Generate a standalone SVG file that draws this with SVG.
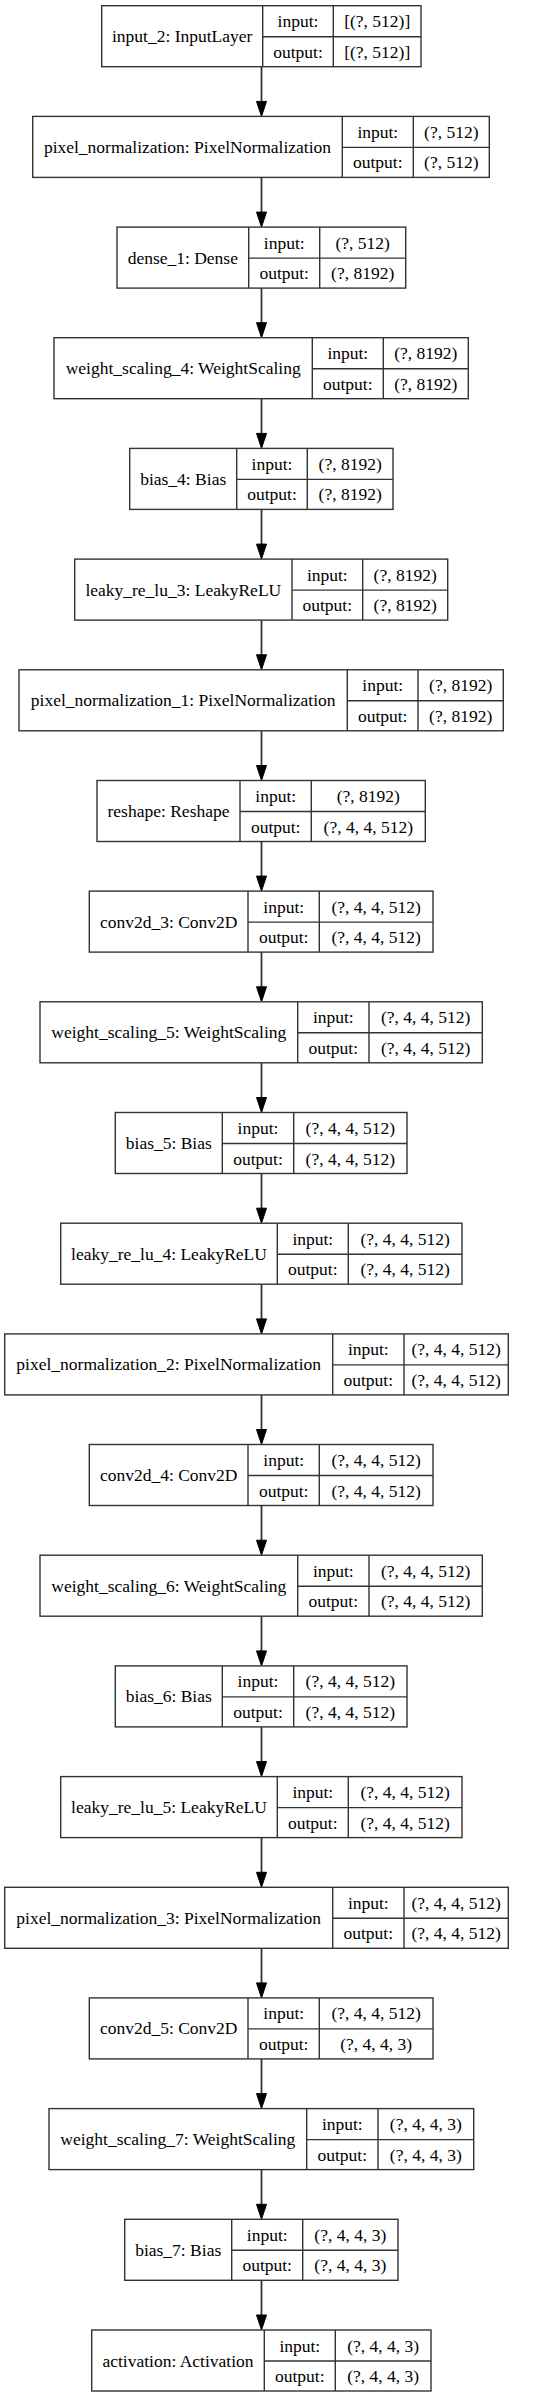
<svg xmlns="http://www.w3.org/2000/svg" width="540" height="2397" viewBox="0 0 540 2397">
<style>
.b{fill:#fff;stroke:#333;stroke-width:1.4}
.l{stroke:#333;stroke-width:1.4}
text{font-family:"Liberation Serif","Times New Roman",serif;font-size:17.5px;fill:#000;text-anchor:middle}
.e{stroke:#333;stroke-width:1.8}
.h{fill:#000;stroke:#000;stroke-width:1}
</style>
<rect width="540" height="2397" fill="#fff"/>
<g id="connectors">
<line class="e" x1="261.5" y1="66.7" x2="261.5" y2="102"/><polygon class="h" points="256.5,101.4 266.5,101.4 261.5,116.4"/>
<line class="e" x1="261.5" y1="177.4" x2="261.5" y2="213"/><polygon class="h" points="256.5,212.1 266.5,212.1 261.5,227.1"/>
<line class="e" x1="261.5" y1="288.1" x2="261.5" y2="323"/><polygon class="h" points="256.5,322.7 266.5,322.7 261.5,337.7"/>
<line class="e" x1="261.5" y1="398.7" x2="261.5" y2="434"/><polygon class="h" points="256.5,433.4 266.5,433.4 261.5,448.4"/>
<line class="e" x1="261.5" y1="509.4" x2="261.5" y2="545"/><polygon class="h" points="256.5,544.1 266.5,544.1 261.5,559.1"/>
<line class="e" x1="261.5" y1="620.1" x2="261.5" y2="655"/><polygon class="h" points="256.5,654.8 266.5,654.8 261.5,669.8"/>
<line class="e" x1="261.5" y1="730.8" x2="261.5" y2="766"/><polygon class="h" points="256.5,765.5 266.5,765.5 261.5,780.5"/>
<line class="e" x1="261.5" y1="841.5" x2="261.5" y2="877"/><polygon class="h" points="256.5,876.1 266.5,876.1 261.5,891.1"/>
<line class="e" x1="261.5" y1="952.1" x2="261.5" y2="987"/><polygon class="h" points="256.5,986.8 266.5,986.8 261.5,1001.8"/>
<line class="e" x1="261.5" y1="1062.8" x2="261.5" y2="1098"/><polygon class="h" points="256.5,1097.5 266.5,1097.5 261.5,1112.5"/>
<line class="e" x1="261.5" y1="1173.5" x2="261.5" y2="1209"/><polygon class="h" points="256.5,1208.2 266.5,1208.2 261.5,1223.2"/>
<line class="e" x1="261.5" y1="1284.2" x2="261.5" y2="1319"/><polygon class="h" points="256.5,1318.9 266.5,1318.9 261.5,1333.9"/>
<line class="e" x1="261.5" y1="1394.9" x2="261.5" y2="1430"/><polygon class="h" points="256.5,1429.5 266.5,1429.5 261.5,1444.5"/>
<line class="e" x1="261.5" y1="1505.5" x2="261.5" y2="1541"/><polygon class="h" points="256.5,1540.2 266.5,1540.2 261.5,1555.2"/>
<line class="e" x1="261.5" y1="1616.2" x2="261.5" y2="1651"/><polygon class="h" points="256.5,1650.9 266.5,1650.9 261.5,1665.9"/>
<line class="e" x1="261.5" y1="1726.9" x2="261.5" y2="1762"/><polygon class="h" points="256.5,1761.6 266.5,1761.6 261.5,1776.6"/>
<line class="e" x1="261.5" y1="1837.6" x2="261.5" y2="1873"/><polygon class="h" points="256.5,1872.3 266.5,1872.3 261.5,1887.3"/>
<line class="e" x1="261.5" y1="1948.3" x2="261.5" y2="1983"/><polygon class="h" points="256.5,1982.9 266.5,1982.9 261.5,1997.9"/>
<line class="e" x1="261.5" y1="2058.9" x2="261.5" y2="2094"/><polygon class="h" points="256.5,2093.6 266.5,2093.6 261.5,2108.6"/>
<line class="e" x1="261.5" y1="2169.6" x2="261.5" y2="2205"/><polygon class="h" points="256.5,2204.3 266.5,2204.3 261.5,2219.3"/>
<line class="e" x1="261.5" y1="2280.3" x2="261.5" y2="2315"/><polygon class="h" points="256.5,2315 266.5,2315 261.5,2330"/>
</g>
<g id="input_2" transform="translate(0,5.7)">
<rect class="b" x="101.7" y="0" width="319.3" height="61"/><line class="l" x1="262.7" y1="0" x2="262.7" y2="61"/><line class="l" x1="333.3" y1="0" x2="333.3" y2="61"/><line class="l" x1="262.7" y1="31" x2="421" y2="31"/>
<text x="182.2" y="36.5">input_2: InputLayer</text><text x="298" y="21.5">input:</text><text x="298" y="52">output:</text><text x="377.2" y="21.5">[(?, 512)]</text><text x="377.2" y="52">[(?, 512)]</text>
</g>
<g id="pixel_normalization" transform="translate(0,116.4)">
<rect class="b" x="32.7" y="0" width="456.6" height="61"/><line class="l" x1="342.3" y1="0" x2="342.3" y2="61"/><line class="l" x1="413.3" y1="0" x2="413.3" y2="61"/><line class="l" x1="342.3" y1="31" x2="489.3" y2="31"/>
<text x="187.5" y="36.5">pixel_normalization: PixelNormalization</text><text x="377.8" y="21.5">input:</text><text x="377.8" y="52">output:</text><text x="451.3" y="21.5">(?, 512)</text><text x="451.3" y="52">(?, 512)</text>
</g>
<g id="dense_1" transform="translate(0,227.1)">
<rect class="b" x="117" y="0" width="288.7" height="61"/><line class="l" x1="248.7" y1="0" x2="248.7" y2="61"/><line class="l" x1="319.7" y1="0" x2="319.7" y2="61"/><line class="l" x1="248.7" y1="31" x2="405.7" y2="31"/>
<text x="182.8" y="36.5">dense_1: Dense</text><text x="284.2" y="21.5">input:</text><text x="284.2" y="52">output:</text><text x="362.7" y="21.5">(?, 512)</text><text x="362.7" y="52">(?, 8192)</text>
</g>
<g id="weight_scaling_4" transform="translate(0,337.7)">
<rect class="b" x="54" y="0" width="414.3" height="61"/><line class="l" x1="312.3" y1="0" x2="312.3" y2="61"/><line class="l" x1="383.3" y1="0" x2="383.3" y2="61"/><line class="l" x1="312.3" y1="31" x2="468.3" y2="31"/>
<text x="183.2" y="36.5">weight_scaling_4: WeightScaling</text><text x="347.8" y="21.5">input:</text><text x="347.8" y="52">output:</text><text x="425.8" y="21.5">(?, 8192)</text><text x="425.8" y="52">(?, 8192)</text>
</g>
<g id="bias_4" transform="translate(0,448.4)">
<rect class="b" x="129.7" y="0" width="263.3" height="61"/><line class="l" x1="236.7" y1="0" x2="236.7" y2="61"/><line class="l" x1="307.3" y1="0" x2="307.3" y2="61"/><line class="l" x1="236.7" y1="31" x2="393" y2="31"/>
<text x="183.2" y="36.5">bias_4: Bias</text><text x="272" y="21.5">input:</text><text x="272" y="52">output:</text><text x="350.2" y="21.5">(?, 8192)</text><text x="350.2" y="52">(?, 8192)</text>
</g>
<g id="leaky_re_lu_3" transform="translate(0,559.1)">
<rect class="b" x="74.7" y="0" width="373" height="61"/><line class="l" x1="292" y1="0" x2="292" y2="61"/><line class="l" x1="362.7" y1="0" x2="362.7" y2="61"/><line class="l" x1="292" y1="31" x2="447.7" y2="31"/>
<text x="183.3" y="36.5">leaky_re_lu_3: LeakyReLU</text><text x="327.3" y="21.5">input:</text><text x="327.3" y="52">output:</text><text x="405.2" y="21.5">(?, 8192)</text><text x="405.2" y="52">(?, 8192)</text>
</g>
<g id="pixel_normalization_1" transform="translate(0,669.8)">
<rect class="b" x="19" y="0" width="484.3" height="61"/><line class="l" x1="347.3" y1="0" x2="347.3" y2="61"/><line class="l" x1="418" y1="0" x2="418" y2="61"/><line class="l" x1="347.3" y1="31" x2="503.3" y2="31"/>
<text x="183.2" y="36.5">pixel_normalization_1: PixelNormalization</text><text x="382.7" y="21.5">input:</text><text x="382.7" y="52">output:</text><text x="460.7" y="21.5">(?, 8192)</text><text x="460.7" y="52">(?, 8192)</text>
</g>
<g id="reshape" transform="translate(0,780.5)">
<rect class="b" x="97" y="0" width="328.3" height="61"/><line class="l" x1="240" y1="0" x2="240" y2="61"/><line class="l" x1="311.3" y1="0" x2="311.3" y2="61"/><line class="l" x1="240" y1="31" x2="425.3" y2="31"/>
<text x="168.5" y="36.5">reshape: Reshape</text><text x="275.7" y="21.5">input:</text><text x="275.7" y="52">output:</text><text x="368.3" y="21.5">(?, 8192)</text><text x="368.3" y="52">(?, 4, 4, 512)</text>
</g>
<g id="conv2d_3" transform="translate(0,891.1)">
<rect class="b" x="89.3" y="0" width="343.7" height="61"/><line class="l" x1="248" y1="0" x2="248" y2="61"/><line class="l" x1="319.3" y1="0" x2="319.3" y2="61"/><line class="l" x1="248" y1="31" x2="433" y2="31"/>
<text x="168.7" y="36.5">conv2d_3: Conv2D</text><text x="283.7" y="21.5">input:</text><text x="283.7" y="52">output:</text><text x="376.2" y="21.5">(?, 4, 4, 512)</text><text x="376.2" y="52">(?, 4, 4, 512)</text>
</g>
<g id="weight_scaling_5" transform="translate(0,1001.8)">
<rect class="b" x="40" y="0" width="442.3" height="61"/><line class="l" x1="297.7" y1="0" x2="297.7" y2="61"/><line class="l" x1="369" y1="0" x2="369" y2="61"/><line class="l" x1="297.7" y1="31" x2="482.3" y2="31"/>
<text x="168.8" y="36.5">weight_scaling_5: WeightScaling</text><text x="333.3" y="21.5">input:</text><text x="333.3" y="52">output:</text><text x="425.7" y="21.5">(?, 4, 4, 512)</text><text x="425.7" y="52">(?, 4, 4, 512)</text>
</g>
<g id="bias_5" transform="translate(0,1112.5)">
<rect class="b" x="115.3" y="0" width="291.7" height="61"/><line class="l" x1="222.3" y1="0" x2="222.3" y2="61"/><line class="l" x1="293.7" y1="0" x2="293.7" y2="61"/><line class="l" x1="222.3" y1="31" x2="407" y2="31"/>
<text x="168.8" y="36.5">bias_5: Bias</text><text x="258" y="21.5">input:</text><text x="258" y="52">output:</text><text x="350.3" y="21.5">(?, 4, 4, 512)</text><text x="350.3" y="52">(?, 4, 4, 512)</text>
</g>
<g id="leaky_re_lu_4" transform="translate(0,1223.2)">
<rect class="b" x="60.7" y="0" width="401.3" height="61"/><line class="l" x1="277.3" y1="0" x2="277.3" y2="61"/><line class="l" x1="348.3" y1="0" x2="348.3" y2="61"/><line class="l" x1="277.3" y1="31" x2="462" y2="31"/>
<text x="169" y="36.5">leaky_re_lu_4: LeakyReLU</text><text x="312.8" y="21.5">input:</text><text x="312.8" y="52">output:</text><text x="405.2" y="21.5">(?, 4, 4, 512)</text><text x="405.2" y="52">(?, 4, 4, 512)</text>
</g>
<g id="pixel_normalization_2" transform="translate(0,1333.9)">
<rect class="b" x="4.7" y="0" width="503.6" height="61"/><line class="l" x1="332.7" y1="0" x2="332.7" y2="61"/><line class="l" x1="404" y1="0" x2="404" y2="61"/><line class="l" x1="332.7" y1="31" x2="508.3" y2="31"/>
<text x="168.7" y="36.5">pixel_normalization_2: PixelNormalization</text><text x="368.3" y="21.5">input:</text><text x="368.3" y="52">output:</text><text x="456.2" y="21.5">(?, 4, 4, 512)</text><text x="456.2" y="52">(?, 4, 4, 512)</text>
</g>
<g id="conv2d_4" transform="translate(0,1444.5)">
<rect class="b" x="89.3" y="0" width="343.7" height="61"/><line class="l" x1="248" y1="0" x2="248" y2="61"/><line class="l" x1="319.3" y1="0" x2="319.3" y2="61"/><line class="l" x1="248" y1="31" x2="433" y2="31"/>
<text x="168.7" y="36.5">conv2d_4: Conv2D</text><text x="283.7" y="21.5">input:</text><text x="283.7" y="52">output:</text><text x="376.2" y="21.5">(?, 4, 4, 512)</text><text x="376.2" y="52">(?, 4, 4, 512)</text>
</g>
<g id="weight_scaling_6" transform="translate(0,1555.2)">
<rect class="b" x="40" y="0" width="442.3" height="61"/><line class="l" x1="297.7" y1="0" x2="297.7" y2="61"/><line class="l" x1="369" y1="0" x2="369" y2="61"/><line class="l" x1="297.7" y1="31" x2="482.3" y2="31"/>
<text x="168.8" y="36.5">weight_scaling_6: WeightScaling</text><text x="333.3" y="21.5">input:</text><text x="333.3" y="52">output:</text><text x="425.7" y="21.5">(?, 4, 4, 512)</text><text x="425.7" y="52">(?, 4, 4, 512)</text>
</g>
<g id="bias_6" transform="translate(0,1665.9)">
<rect class="b" x="115.3" y="0" width="291.7" height="61"/><line class="l" x1="222.3" y1="0" x2="222.3" y2="61"/><line class="l" x1="293.7" y1="0" x2="293.7" y2="61"/><line class="l" x1="222.3" y1="31" x2="407" y2="31"/>
<text x="168.8" y="36.5">bias_6: Bias</text><text x="258" y="21.5">input:</text><text x="258" y="52">output:</text><text x="350.3" y="21.5">(?, 4, 4, 512)</text><text x="350.3" y="52">(?, 4, 4, 512)</text>
</g>
<g id="leaky_re_lu_5" transform="translate(0,1776.6)">
<rect class="b" x="60.7" y="0" width="401.3" height="61"/><line class="l" x1="277.3" y1="0" x2="277.3" y2="61"/><line class="l" x1="348.3" y1="0" x2="348.3" y2="61"/><line class="l" x1="277.3" y1="31" x2="462" y2="31"/>
<text x="169" y="36.5">leaky_re_lu_5: LeakyReLU</text><text x="312.8" y="21.5">input:</text><text x="312.8" y="52">output:</text><text x="405.2" y="21.5">(?, 4, 4, 512)</text><text x="405.2" y="52">(?, 4, 4, 512)</text>
</g>
<g id="pixel_normalization_3" transform="translate(0,1887.3)">
<rect class="b" x="4.7" y="0" width="503.6" height="61"/><line class="l" x1="332.7" y1="0" x2="332.7" y2="61"/><line class="l" x1="404" y1="0" x2="404" y2="61"/><line class="l" x1="332.7" y1="31" x2="508.3" y2="31"/>
<text x="168.7" y="36.5">pixel_normalization_3: PixelNormalization</text><text x="368.3" y="21.5">input:</text><text x="368.3" y="52">output:</text><text x="456.2" y="21.5">(?, 4, 4, 512)</text><text x="456.2" y="52">(?, 4, 4, 512)</text>
</g>
<g id="conv2d_5" transform="translate(0,1997.9)">
<rect class="b" x="89.3" y="0" width="343.7" height="61"/><line class="l" x1="248" y1="0" x2="248" y2="61"/><line class="l" x1="319.3" y1="0" x2="319.3" y2="61"/><line class="l" x1="248" y1="31" x2="433" y2="31"/>
<text x="168.7" y="36.5">conv2d_5: Conv2D</text><text x="283.7" y="21.5">input:</text><text x="283.7" y="52">output:</text><text x="376.2" y="21.5">(?, 4, 4, 512)</text><text x="376.2" y="52">(?, 4, 4, 3)</text>
</g>
<g id="weight_scaling_7" transform="translate(0,2108.6)">
<rect class="b" x="49" y="0" width="424.7" height="61"/><line class="l" x1="306.7" y1="0" x2="306.7" y2="61"/><line class="l" x1="378" y1="0" x2="378" y2="61"/><line class="l" x1="306.7" y1="31" x2="473.7" y2="31"/>
<text x="177.8" y="36.5">weight_scaling_7: WeightScaling</text><text x="342.3" y="21.5">input:</text><text x="342.3" y="52">output:</text><text x="425.8" y="21.5">(?, 4, 4, 3)</text><text x="425.8" y="52">(?, 4, 4, 3)</text>
</g>
<g id="bias_7" transform="translate(0,2219.3)">
<rect class="b" x="124.7" y="0" width="273.3" height="61"/><line class="l" x1="231.7" y1="0" x2="231.7" y2="61"/><line class="l" x1="302.7" y1="0" x2="302.7" y2="61"/><line class="l" x1="231.7" y1="31" x2="398" y2="31"/>
<text x="178.2" y="36.5">bias_7: Bias</text><text x="267.2" y="21.5">input:</text><text x="267.2" y="52">output:</text><text x="350.3" y="21.5">(?, 4, 4, 3)</text><text x="350.3" y="52">(?, 4, 4, 3)</text>
</g>
<g id="activation" transform="translate(0,2330)">
<rect class="b" x="91.7" y="0" width="339.3" height="61"/><line class="l" x1="264.3" y1="0" x2="264.3" y2="61"/><line class="l" x1="335.3" y1="0" x2="335.3" y2="61"/><line class="l" x1="264.3" y1="31" x2="431" y2="31"/>
<text x="178" y="36.5">activation: Activation</text><text x="299.8" y="21.5">input:</text><text x="299.8" y="52">output:</text><text x="383.2" y="21.5">(?, 4, 4, 3)</text><text x="383.2" y="52">(?, 4, 4, 3)</text>
</g>
</svg>
